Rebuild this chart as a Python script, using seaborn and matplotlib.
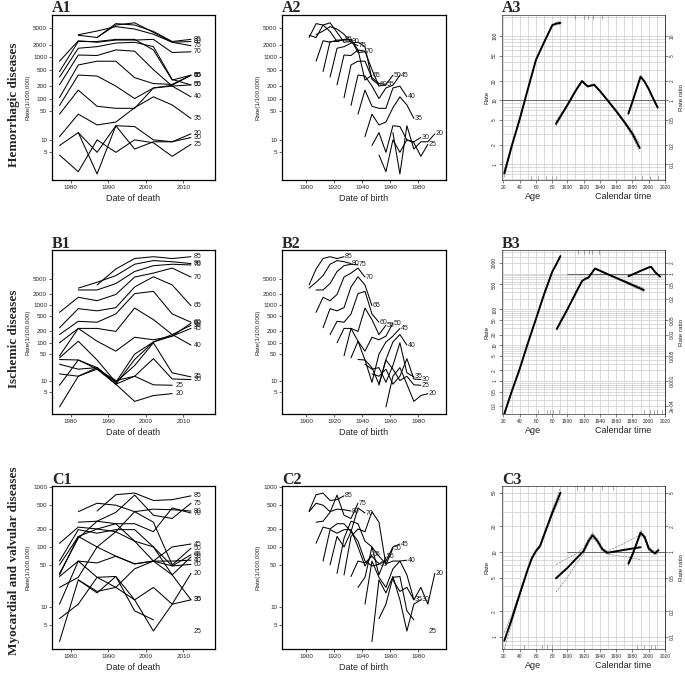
import numpy as np
import pandas as pd
import matplotlib
matplotlib.use("Agg")
import matplotlib.pyplot as plt
import matplotlib.transforms as mtransforms
import seaborn as sns
from matplotlib.ticker import LogLocator, NullFormatter, FixedLocator

sns.set_style("ticks")
plt.rcParams["font.family"] = ["Liberation Sans", "DejaVu Sans"]

# -----------------------------
# DATA
# -----------------------------
nan = np.nan
ages = [20, 25, 30, 35, 40, 45, 50, 55, 60, 65, 70, 75, 80, 85]
periods = [1977, 1982, 1987, 1992, 1997, 2002, 2007, 2012]

# rates per 100,000 (rows = ages 20..85, columns = periods)
hem_rates = [
    [nan, 15, 1.5, 22, 6, 9, 9, 14],
    [4.3, 1.7, 10, 5, 10, 8.5, 4, 7.8],
    [7.3, 15, 5, 22, 21, 10, 9, 11.4],
    [12, 42, 23, 27, 60, 110, 70, 33],
    [42, 160, 65, 58, 58, 180, 200, 110],
    [68, 370, 350, 200, 100, 180, 210, 367],
    [105, 650, 800, 800, 320, 230, 220, 367],
    [215, 1130, 1100, 1500, 1400, 500, 200, 214],
    [330, 1650, 1800, 2200, 2300, 1800, 290, 214],
    [450, 2400, 2400, 2700, 2700, 1500, 280, 367],
    [800, 2500, 2300, 2600, 2600, 2700, 1300, 1350],
    [nan, 3500, 4300, 5500, 4800, 3600, 2300, 1900],
    [nan, 3400, 3000, 6000, 6800, 4000, 2300, 2400],
    [nan, nan, 3000, 6500, 6000, 4200, 2400, 2700],
]
isc_rates = [
    [2, 13, 22, 8, 2.8, 4, 4.5, nan],
    [7.5, 35, 20, 10, 13, 7.7, 7.5, nan],
    [15, 13, 20, 8, 13, 38, 11, 10.6],
    [27, 20, 22, 9, 25, 100, 16, 12.5],
    [36, 35, 22, 8, 36, 105, 165, 87],
    [40, 110, 35, 9, 50, 105, 150, 240],
    [45, 240, 110, 60, 140, 120, 150, 330],
    [100, 240, 240, 200, 830, 410, 165, 290],
    [165, 370, 350, 580, 2000, 2300, 580, 350],
    [250, 800, 700, 850, 3000, 5600, 3400, 960],
    [640, 1600, 1300, 1900, 5500, 7000, 9500, 5500],
    [nan, 2500, 2500, 3700, 7700, 11000, 12000, 11500],
    [nan, 2800, 4000, 6000, 12000, 15000, 14000, 12500],
    [nan, nan, 3400, 9000, 17000, 19000, 17000, 19000],
]
myo_rates = [
    [nan, 28, 18, 21, 13, 21, 11, 36],
    [6.3, 11, 31, 32, 8.5, 6, nan, 3.9],
    [2.6, 28, 17, 32, 13, 3.9, 11, 13],
    [11, 58, 31, 21, 43, 58, 34, 13],
    [21, 31, 100, 70, 52, 58, 58, 60],
    [32, 58, 54, 70, 52, 58, 100, 112],
    [34, 150, 200, 180, 390, 260, 50, 95],
    [36, 140, 270, 245, 125, 100, 34, 68],
    [50, 150, 100, 180, 125, 58, 48, 51],
    [58, 195, 170, 195, 195, 100, 48, 74],
    [115, 215, 200, 245, 245, 180, 450, 370],
    [nan, 260, 270, 380, 740, 340, 300, 540],
    [nan, 390, 540, 500, 390, 430, 420, 400],
    [nan, nan, 400, 750, 800, 600, 620, 718],
]

# APC model estimates (panel 3)
hem_age_x = [21, 30, 40, 50, 60, 70, 80, 85, 90]
hem_age_rate = [0.72, 1.9, 5.1, 15, 43, 81, 149, 158, 162]
hem_age_ci = [1.15, 1.05, 1.03, 1.02, 1.02, 1.02, 1.03, 1.05, 1.06]
hem_coh_x = [1886, 1900, 1910, 1918, 1925, 1933, 1940, 1950, 1960, 1970, 1980, 1989]
hem_coh_rr = [0.43, 0.84, 1.4, 2.0, 1.65, 1.75, 1.4, 0.98, 0.68, 0.46, 0.30, 0.18]
hem_coh_ci = [1.08, 1.04, 1.03, 1.03, 1.03, 1.03, 1.03, 1.03, 1.04, 1.06, 1.1, 1.15]
hem_per_x = [1975, 1980, 1985, 1990, 1995, 2000, 2005, 2011]
hem_per_rr = [0.62, 0.95, 1.5, 2.35, 1.95, 1.5, 1.1, 0.77]
hem_per_ci = [1.03, 1.02, 1.02, 1.02, 1.02, 1.02, 1.02, 1.03]

isc_age_x = [21, 30, 40, 50, 60, 70, 80, 85, 90]
isc_age_rate = [0.12, 0.5, 2.2, 11.5, 55, 270, 1140, 1850, 3100]
isc_age_ci = [1.1, 1.05, 1.03, 1.02, 1.02, 1.02, 1.02, 1.03, 1.04]
isc_coh_x = [1887, 1900, 1910, 1918, 1922, 1926, 1934, 1950, 1970, 1994]
isc_coh_rr = [0.0285, 0.1, 0.28, 0.62, 0.72, 0.78, 1.4, 0.96, 0.61, 0.35]
isc_coh_ci = [1.08, 1.04, 1.03, 1.02, 1.02, 1.02, 1.02, 1.03, 1.06, 1.12]
isc_per_x = [1975, 1980, 1990, 2000, 2003, 2008, 2014]
isc_per_rr = [0.85, 0.95, 1.2, 1.5, 1.55, 1.1, 0.83]
isc_per_ci = [1.03, 1.02, 1.02, 1.02, 1.02, 1.02, 1.03]

myo_age_x = [21, 30, 40, 50, 55, 60, 65, 70, 80, 90]
myo_age_rate = [0.9, 1.6, 3.2, 6.3, 8.5, 10.3, 11.8, 16, 29, 50]
myo_age_ci = [1.25, 1.12, 1.06, 1.04, 1.04, 1.04, 1.04, 1.04, 1.08, 1.15]
myo_coh_x = [1886, 1900, 1910, 1920, 1926, 1931, 1937, 1943, 1949, 1970, 1990]
myo_coh_rr = [0.49, 0.65, 0.82, 1.03, 1.35, 1.58, 1.35, 1.08, 0.98, 1.06, 1.14]
myo_coh_ci = [1.45, 1.3, 1.15, 1.08, 1.07, 1.07, 1.06, 1.05, 1.04, 1.2, 1.4]
myo_per_x = [1975, 1980, 1985, 1990, 1995, 2000, 2005, 2008, 2012]
myo_per_rr = [0.73, 0.93, 1.25, 1.69, 1.5, 1.1, 1.0, 0.97, 1.05]
myo_per_ci = [1.06, 1.05, 1.05, 1.06, 1.06, 1.06, 1.05, 1.05, 1.06]

# knots (rug marks)
hem_rug_top = [1910, 1920, 1925, 1931, 1943]
hem_rug_age = [54, 63, 72, 80, 84]
hem_rug_per = [1983, 1992, 2001, 2011]
isc_rug_top = [1913, 1921, 1926, 1930, 1939]
isc_rug_age = [63, 73, 77, 81, 88]
isc_rug_per = [1994, 2001, 2006, 2010, 2016]
myo_rug_top = [1912, 1920, 1930, 1943, 1956]
myo_rug_age = [45, 67, 73, 80]
myo_rug_per = [1986, 1994, 2003, 2008]

row_titles = ["Hemorrhagic diseases", "Ischemic diseases", "Myocardial and valvular diseases"]
row_letters = ["A", "B", "C"]

rate_ticks = [
    [5, 10, 50, 100, 200, 500, 1000, 2000, 5000],
    [5, 10, 50, 100, 200, 500, 1000, 2000, 5000],
    [5, 10, 50, 100, 200, 500, 1000],
]
rate_ylims = [(1.07, 10500), (1.3, 28600), (1.95, 1050)]

apc_left_ticks = [
    ([1, 2, 5, 10, 20, 50, 100], ["1", "2", "5", "10", "20", "50", "100"]),
    ([0.2, 0.5, 1, 2, 5, 10, 20, 50, 100, 500, 2000],
     ["0.2", "0.5", "1", "2", "5", "10", "20", "50", "100", "500", "2000"]),
    ([1, 2, 5, 10, 20, 50], ["1", "2", "5", "10", "20", "50"]),
]
apc_right_ticks = [
    ([0.1, 0.2, 0.5, 1, 2, 5, 10], ["0.1", "0.2", "0.5", "1", "2", "5", "10"]),
    ([2e-4, 0.001, 0.005, 0.02, 0.05, 0.2, 0.5, 1, 2],
     ["2e-04", "0.001", "0.005", "0.02", "0.05", "0.2", "0.5", "1", "2"]),
    ([0.1, 0.2, 0.5, 1, 2, 5], ["0.1", "0.2", "0.5", "1", "2", "5"]),
]
apc_ratio = [10, 1000, 10]
apc_ylims = [(0.57, 215), (0.12, 4600), (0.72, 60)]
ref_start = [1819.7, 1900, 1900]

age_shift = 1801.5   # where the age scale sits on the shared x axis
apc_xlim = (1819.7, 2020)


# -----------------------------
# HELPERS
# -----------------------------
def long_table(rates):
    rows = []
    for i, age in enumerate(ages):
        seg = 0
        gap = True
        for j, per in enumerate(periods):
            r = rates[i][j]
            if np.isnan(r):
                gap = True
                continue
            if gap:
                seg += 1
            gap = False
            rows.append(dict(age=age, period=per, cohort=per - age, rate=r,
                             unit=f"{age}-{seg}"))
    return pd.DataFrame(rows)


def rate_panel(ax, df, xcol, xlim, xticks, xlabel, yticks, ylim):
    ax.set_yscale("log")
    sns.lineplot(data=df, x=xcol, y="rate", units="unit", estimator=None,
                 color="black", linewidth=0.75, ax=ax, legend=False)
    for age, grp in df.groupby("age"):
        last = grp.sort_values(xcol).iloc[-1]
        ax.text(last[xcol] + 0.8, last["rate"], str(age), fontsize=5,
                va="center", ha="left", color="#222222")
    ax.set_xlim(*xlim)
    ax.set_ylim(*ylim)
    ax.set_xticks(xticks)
    ax.set_xticklabels([str(t) for t in xticks])
    ax.yaxis.set_minor_locator(FixedLocator([]))
    ax.set_yticks(yticks)
    ax.set_yticklabels([str(t) for t in yticks])
    ax.set_xlabel(xlabel, fontsize=6.5, labelpad=3)
    ax.set_ylabel("Rate(1/100,000)", fontsize=4.5, labelpad=2)
    ax.tick_params(labelsize=4.5, length=2, width=0.5, pad=1.5)
    for s in ax.spines.values():
        s.set_linewidth(0.9)
        s.set_color("black")


def apc_panel(ax, k, age_x, age_rate, age_ci, coh_x, coh_rr, coh_ci,
              per_x, per_rr, per_ci, rug_top, rug_age, rug_per):
    ratio = apc_ratio[k]
    ax.set_yscale("log")
    ax.set_xlim(*apc_xlim)
    ax.set_ylim(*apc_ylims[k])

    # grid
    ax.yaxis.set_minor_locator(LogLocator(base=10, subs=range(1, 10), numticks=60))
    ax.yaxis.set_minor_formatter(NullFormatter())
    xmaj = [a + age_shift for a in [20, 40, 60, 80]] + list(range(1900, 2021, 20))
    xlab = ["20", "40", "60", "80"] + [str(y) for y in range(1900, 2021, 20)]
    ax.set_xticks(xmaj)
    ax.set_xticklabels(xlab)
    ax.set_xticks([a + age_shift for a in [30, 50, 70, 90]] + list(range(1910, 2020, 20)),
                  minor=True)
    ax.grid(True, which="both", color="#cccccc", linewidth=0.5)
    ax.set_axisbelow(True)
    ax.hlines(ratio, ref_start[k], 2020, color="#666666", linewidth=0.7, zorder=2)

    yt, yl = apc_left_ticks[k]
    ax.set_yticks(yt)
    ax.set_yticklabels(yl, rotation=90, va="center")
    ax.tick_params(axis="both", which="major", labelsize=3.5, length=2, width=0.4, pad=1.5)
    ax.tick_params(axis="both", which="minor", length=0)

    sec = ax.secondary_yaxis("right", functions=(lambda y: y / ratio, lambda y: y * ratio))
    rt, rl = apc_right_ticks[k]
    sec.set_yticks(rt)
    sec.set_yticklabels(rl, rotation=90, va="center")
    sec.yaxis.set_minor_locator(FixedLocator([]))
    sec.tick_params(labelsize=3.5, length=2, width=0.4, pad=1.5)
    sec.set_ylabel("Rate ratio", fontsize=4.5, labelpad=3)
    sec.spines["right"].set_linewidth(0.5)

    # curves with dashed confidence limits
    curves = [
        (np.array(age_x) + age_shift, np.array(age_rate), np.array(age_ci)),
        (np.array(coh_x), np.array(coh_rr) * ratio, np.array(coh_ci)),
        (np.array(per_x), np.array(per_rr) * ratio, np.array(per_ci)),
    ]
    for x, y, ci in curves:
        for bound in (y / ci, y * ci):
            sns.lineplot(x=x, y=bound, color="#777777", linewidth=0.45,
                         linestyle="--", ax=ax, legend=False)
        sns.lineplot(x=x, y=y, color="black", linewidth=1.4, ax=ax, legend=False)

    # rug marks
    trans = mtransforms.blended_transform_factory(ax.transData, ax.transAxes)
    for x in rug_top:
        ax.plot([x, x], [1.0, 0.975], color="#888888", lw=0.5, transform=trans)
    for x in [a + age_shift for a in rug_age] + rug_per:
        ax.plot([x, x], [0.0, 0.025], color="#888888", lw=0.5, transform=trans)

    ax.text(1858, -0.1, "Age", transform=trans, fontsize=6.5, ha="center", va="center")
    ax.text(1969, -0.1, "Calendar time", transform=trans, fontsize=6.5,
            ha="center", va="center")
    ax.set_xlabel("")
    ax.set_ylabel("Rate", fontsize=4.5, labelpad=2)
    for s in ax.spines.values():
        s.set_linewidth(0.5)
        s.set_color("#333333")


# -----------------------------
# FIGURE
# -----------------------------
W, H = 685, 680
fig = plt.figure(figsize=(W / 100, H / 100), dpi=100)

row_top = [15, 250, 486]
row_bot = [180, 414, 649]
col_left = [52, 282, 502]
col_right = [215, 446, 665]


def add_axes(r, c):
    return fig.add_axes([col_left[c] / W, 1 - row_bot[r] / H,
                         (col_right[c] - col_left[c]) / W, (row_bot[r] - row_top[r]) / H])


all_rates = [hem_rates, isc_rates, myo_rates]
apc_data = [
    (hem_age_x, hem_age_rate, hem_age_ci, hem_coh_x, hem_coh_rr, hem_coh_ci,
     hem_per_x, hem_per_rr, hem_per_ci, hem_rug_top, hem_rug_age, hem_rug_per),
    (isc_age_x, isc_age_rate, isc_age_ci, isc_coh_x, isc_coh_rr, isc_coh_ci,
     isc_per_x, isc_per_rr, isc_per_ci, isc_rug_top, isc_rug_age, isc_rug_per),
    (myo_age_x, myo_age_rate, myo_age_ci, myo_coh_x, myo_coh_rr, myo_coh_ci,
     myo_per_x, myo_per_rr, myo_per_ci, myo_rug_top, myo_rug_age, myo_rug_per),
]

for r in range(3):
    df = long_table(all_rates[r])

    ax1 = add_axes(r, 0)
    rate_panel(ax1, df, "period", (1975, 2018.4), [1980, 1990, 2000, 2010],
               "Date of death", rate_ticks[r], rate_ylims[r])

    ax2 = add_axes(r, 1)
    rate_panel(ax2, df, "cohort", (1882.6, 2000), [1900, 1920, 1940, 1960, 1980],
               "Date of birth", rate_ticks[r], rate_ylims[r])

    ax3 = add_axes(r, 2)
    apc_panel(ax3, r, *apc_data[r])

    h = row_bot[r] - row_top[r]
    for c, ax in enumerate([ax1, ax2, ax3]):
        ax.text(0.0, 1 + 2.5 / h, f"{row_letters[r]}{c + 1}", transform=ax.transAxes,
                fontsize=11.5, fontweight="bold", family="Liberation Serif",
                ha="left", va="baseline")

    fig.text(14 / W, 1 - (row_top[r] + row_bot[r]) / 2 / H + (0.01 if r == 2 else -0.01),
             row_titles[r], rotation=90, fontsize=9.5, fontweight="bold",
             family="Liberation Serif", ha="center", va="center")

fig.savefig("out.png", dpi=100)
